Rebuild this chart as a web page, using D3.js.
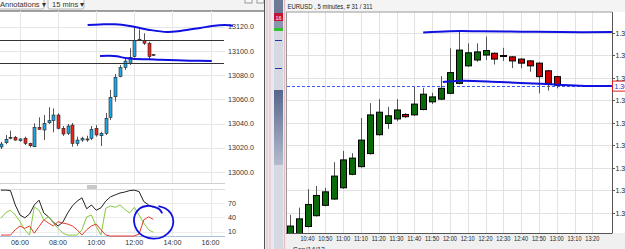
<!DOCTYPE html>
<html>
<head>
<meta charset="utf-8">
<script src="https://cdn.jsdelivr.net/npm/d3@7"></script>
<style>
  body { margin: 0; background: #fff; overflow: hidden; }
  svg { display: block; font-family: "Liberation Sans", Arial, sans-serif; }
</style>
</head>
<body>
<div id="frame_div"></div>
<script>
// Two trading screens side by side: 15 min chart (left) and EURUSD 5 min (right)

const FRAME_WIDTH = 625;
const FRAME_HEIGHT = 249;

// ---------- left chart data (15 mins) ----------
const leftTimes = ["05:00","05:15","05:30","05:45","06:00","06:15","06:30","06:45","07:00","07:15","07:30",
  "07:45","08:00","08:15","08:30","08:45","09:00","09:15","09:30","09:45","10:00","10:15","10:30","10:45",
  "11:00","11:15","11:30","11:45","12:00","12:15","12:30","12:45","13:00"];
const leftOpen  = [13020.7,13024.2,13028.7,13028.7,13025.9,13027.9,13023.7,13020.9,13036.9,13034.7,13040.7,
  13042.4,13047.1,13036.1,13032.0,13038.8,13023.7,13026.4,13027.3,13027.9,13036.1,13030.0,13032.0,13045.2,
  13062.2,13078.8,13086.5,13089.5,13095.3,13109.7,13108.5,13106.4,13097.0];
const leftHigh  = [13025.0,13030.6,13034.1,13029.8,13027.9,13029.2,13024.2,13040.2,13045.2,13047.1,13053.5,
  13052.6,13048.5,13038.0,13039.7,13040.5,13029.2,13029.2,13030.0,13038.0,13038.8,13033.3,13048.8,13067.8,
  13081.0,13088.4,13094.8,13102.2,13120.7,13117.9,13114.6,13107.7,13097.6];
const leftLow   = [13019.0,13022.9,13027.0,13025.9,13025.0,13022.3,13020.4,13020.7,13034.7,13026.4,13039.7,
  13032.8,13035.3,13029.8,13030.6,13020.9,13021.5,13025.0,13025.0,13026.4,13029.2,13021.5,13030.6,13043.0,
  13058.1,13078.3,13084.3,13088.4,13094.5,13109.0,13105.0,13093.1,13096.4];
const leftClose = [13023.1,13027.0,13028.7,13026.4,13027.3,13023.7,13021.7,13036.9,13035.3,13040.2,13042.4,
  13047.1,13036.1,13031.4,13038.0,13023.7,13026.4,13027.9,13027.3,13035.3,13030.6,13032.0,13044.4,13061.7,
  13078.3,13086.2,13091.7,13094.8,13108.5,13109.7,13106.4,13095.3,13097.0];

// oscillator pane (0-100)
const oscBlack = [97,97,96,66,45,39,47,66,76,49,41,30,22,30,49,64,74,81,58,66,55,60,74,83,87,91,93,96,97,94,73,66,61];
const oscGreen = [38,50,55,45,31,14,3,62,55,35,41,28,17,7,3,3,3,14,41,45,21,3,59,64,61,66,57,49,61,45,28,14,9];
const oscRed   = [3,3,3,14,22,17,22,7,21,35,28,22,31,28,26,22,14,3,14,22,26,14,3,1,1,1,1,1,1,5,35,41,36];

const leftPriceTicks = [13000, 13020, 13040, 13060, 13080, 13100, 13120];
const leftTimeTicks = ["06:00","08:00","10:00","12:00","14:00","16:00"];
const oscTicks = [10, 40, 70];

// annotations drawn on the left chart
const leftLevels = [13108.8, 13090.3];
const leftUpperBand = [["09:33",13121.5],["10:12",13121.9],["10:59",13122.1],["11:46",13120.7],["12:49",13117.4],
  ["13:43",13115.7],["14:24",13116.5],["15:27",13119.0],["16:05",13120.7],["16:46",13121.5],["17:11",13120.9]];
const leftLowerBand = [["10:12",13095.9],["10:43",13096.1],["11:05",13095.6],["11:31",13094.2],["12:02",13093.4],
  ["12:44",13093.2],["13:21",13092.8],["14:55",13092.0],["16:04",13091.7]];
const oscCircle = [["13:28",48.5],["13:19",56.9],["13:00",62.4],["12:39",63.8],["12:18",59.0],["12:02",45.0],
  ["11:59",31.0],["12:08",13.6],["12:28",1.0],["13:00",-4.6],["13:31",-0.4],["13:55",13.6],["14:03",31.0],
  ["13:55",48.5],["13:37",59.0],["13:16",63.8]];

// ---------- right chart data (EURUSD, 5 minutes) ----------
const rightTimes = ["10:30","10:35","10:40","10:45","10:50","10:55","11:00","11:05","11:10","11:15","11:20",
  "11:25","11:30","11:35","11:40","11:45","11:50","11:55","12:00","12:05","12:10","12:15","12:20","12:25",
  "12:30","12:35","12:40","12:45","12:50","12:55","13:00"];
const rightOpen  = [1.30652,1.30652,1.30670,1.30694,1.30717,1.30731,1.30756,1.30786,1.30803,1.30832,1.30874,
  1.30899,1.30909,1.30919,1.30918,1.30930,1.30947,1.30953,1.30966,1.30988,1.31027,1.31040,1.31051,1.31055,
  1.31050,1.31047,1.31042,1.31038,1.31033,1.31016,1.31003];
const rightHigh  = [1.30696,1.30712,1.30753,1.30760,1.30756,1.30813,1.30838,1.30833,1.30911,1.30944,1.30953,
  1.30936,1.30953,1.30922,1.30980,1.30978,1.30967,1.31004,1.31066,1.31103,1.31077,1.31077,1.31092,1.31057,
  1.31067,1.31049,1.31044,1.31040,1.31035,1.31018,1.31005];
const rightLow   = [1.30640,1.30640,1.30668,1.30692,1.30715,1.30729,1.30754,1.30784,1.30801,1.30830,1.30872,
  1.30887,1.30904,1.30911,1.30916,1.30928,1.30942,1.30951,1.30964,1.30986,1.31025,1.31036,1.31040,1.31030,
  1.31038,1.31022,1.31022,1.31014,1.30966,1.30972,1.30977];
const rightClose = [1.30671,1.30687,1.30719,1.30739,1.30747,1.30782,1.30818,1.30822,1.30862,1.30918,1.30924,
  1.30916,1.30929,1.30914,1.30942,1.30964,1.30958,1.30977,1.31012,1.31062,1.31056,1.31058,1.31061,1.31042,
  1.31050,1.31038,1.31033,1.31027,1.31003,1.30988,1.30984];

const rightPriceTicks = [1.3070, 1.3075, 1.3080, 1.3085, 1.3090, 1.3095, 1.3100, 1.3105, 1.3110];
const rightTimeTicks = ["10:40","10:50","11:00","11:10","11:20","11:30","11:40","11:50","12:00","12:10",
  "12:20","12:30","12:40","12:50","13:00","13:10","13:20"];

const rightUpperBand = [["11:45",1.31101],["12:00",1.31104],["12:17",1.31104],["12:40",1.31103],["13:02",1.31102],["13:31",1.31102]];
const rightLowerBand = [["11:56",1.30991],["12:06",1.30994],["12:28",1.30991],["12:51",1.30987],["13:13",1.30983],["13:31",1.30982]];
const rightLastPrice = 1.30982;

// ---------- setup ----------
const parseT = d3.timeParse("%H:%M");

const svg = d3.select("#frame_div")
  .append("svg")
    .attr("width", FRAME_WIDTH)
    .attr("height", FRAME_HEIGHT);

svg.append("rect").attr("width", FRAME_WIDTH).attr("height", FRAME_HEIGHT).attr("fill", "#fff");

const defs = svg.append("defs");
defs.append("clipPath").attr("id", "clipL")
  .append("rect").attr("x", 0).attr("y", 11.5).attr("width", 225).attr("height", 171);
defs.append("clipPath").attr("id", "clipR")
  .append("rect").attr("x", 286.5).attr("y", 12).attr("width", 325.5).attr("height", 221);
const grad = defs.append("linearGradient").attr("id", "stripGrad").attr("x1", 0).attr("x2", 0).attr("y1", 0).attr("y2", 1);
grad.append("stop").attr("offset", "0").attr("stop-color", "#56668c");
grad.append("stop").attr("offset", "1").attr("stop-color", "#b4bccd");

// ================= LEFT PANEL =================
const LX = d3.scaleTime().domain([parseT("06:00"), parseT("16:00")]).range([20, 210.5]);
const LY = d3.scaleLinear().domain([13000, 13120]).range([172, 26.8]);
const OY = d3.scaleLinear().domain([0, 100]).range([236.5, 188.7]);

// toolbar
svg.append("rect").attr("x", 0).attr("y", 0).attr("width", 264).attr("height", 11).attr("fill", "#f3f3f3");
const buttons = [{label: "Annotations \u25BE", x: -4, w: 48}, {label: "15 mins \u25BE", x: 48, w: 36}];
buttons.forEach(b => {
  svg.append("rect").attr("x", b.x).attr("y", -5).attr("width", b.w).attr("height", 14).attr("rx", 2)
    .attr("fill", "#fafafa").attr("stroke", "#b8b8b8");
  svg.append("text").attr("x", b.x + 4).attr("y", 6.5).attr("font-size", 7.5).attr("fill", "#333").text(b.label);
});
[245, 257].forEach(x => {
  svg.append("rect").attr("x", x).attr("y", -3).attr("width", 7).attr("height", 6)
    .attr("fill", "#f7f7f7").attr("stroke", "#999");
});
svg.append("line").attr("x1", 0).attr("x2", 264).attr("y1", 11).attr("y2", 11).attr("stroke", "#444");
svg.append("line").attr("x1", 264.5).attr("x2", 264.5).attr("y1", 0).attr("y2", FRAME_HEIGHT).attr("stroke", "#555");

// grid (price pane)
svg.selectAll(".lgridh").data(leftPriceTicks).enter().append("line")
  .attr("x1", 0).attr("x2", 225).attr("y1", d => Math.round(LY(d)) + 0.5).attr("y2", d => Math.round(LY(d)) + 0.5)
  .attr("stroke", "#e6e6e6");
svg.selectAll(".lgridv").data(leftTimeTicks).enter().append("line")
  .attr("x1", d => Math.round(LX(parseT(d))) + 0.5).attr("x2", d => Math.round(LX(parseT(d))) + 0.5)
  .attr("y1", 11).attr("y2", 183).attr("stroke", "#e6e6e6");

// separator between panes
svg.append("line").attr("x1", 0).attr("x2", 225).attr("y1", 183.5).attr("y2", 183.5).attr("stroke", "#d0d0d0");
svg.append("line").attr("x1", 0).attr("x2", 225).attr("y1", 189.5).attr("y2", 189.5).attr("stroke", "#dcdcdc");
svg.append("rect").attr("x", 87).attr("y", 185).attr("width", 10).attr("height", 4).attr("fill", "#c8c8c8");

// grid (oscillator pane)
svg.selectAll(".ogridh").data(oscTicks).enter().append("line")
  .attr("x1", 0).attr("x2", 225).attr("y1", d => Math.round(OY(d)) + 0.5).attr("y2", d => Math.round(OY(d)) + 0.5)
  .attr("stroke", "#ececec");
svg.selectAll(".ogridv").data(leftTimeTicks).enter().append("line")
  .attr("x1", d => Math.round(LX(parseT(d))) + 0.5).attr("x2", d => Math.round(LX(parseT(d))) + 0.5)
  .attr("y1", 190).attr("y2", 236).attr("stroke", "#e6e6e6");
svg.append("line").attr("x1", 0).attr("x2", 225).attr("y1", 236.5).attr("y2", 236.5).attr("stroke", "#a9c1da");

// axis labels
svg.selectAll(".lpl").data(leftPriceTicks).enter().append("text")
  .attr("x", 228).attr("y", d => LY(d) + 2.6).attr("font-size", 7.2).attr("fill", "#333")
  .text(d => d3.format(".1f")(d));
svg.selectAll(".ool").data(oscTicks).enter().append("text")
  .attr("x", 228).attr("y", d => OY(d) + 2.6).attr("font-size", 7.2).attr("fill", "#333").text(d => d);
svg.selectAll(".ltl").data(leftTimeTicks).enter().append("text")
  .attr("x", d => LX(parseT(d))).attr("y", 244.5).attr("text-anchor", "middle")
  .attr("font-size", 7.2).attr("fill", "#333").text(d => d);

// candles
const leftData = leftTimes.map((t, i) => ({t: parseT(t), o: leftOpen[i], h: leftHigh[i], l: leftLow[i], c: leftClose[i]}));
const lg = svg.append("g").attr("clip-path", "url(#clipL)");
lg.selectAll(".lw").data(leftData).enter().append("line")
  .attr("x1", d => Math.round(LX(d.t)) + 0.5).attr("x2", d => Math.round(LX(d.t)) + 0.5)
  .attr("y1", d => LY(d.h)).attr("y2", d => LY(d.l)).attr("stroke", "#555");
lg.selectAll(".lb").data(leftData).enter().append("rect")
  .attr("x", d => Math.round(LX(d.t)) - 1)
  .attr("y", d => LY(Math.max(d.o, d.c)))
  .attr("width", 3)
  .attr("height", d => Math.max(1, Math.abs(LY(d.o) - LY(d.c))))
  .attr("fill", d => d.c > d.o ? "#1ea7e4" : (d.c < d.o ? "#e2281f" : "#666"))
  .attr("stroke", "#222").attr("stroke-width", 0.6);

// horizontal annotation levels
lg.selectAll(".lvl").data(leftLevels).enter().append("line")
  .attr("x1", 0).attr("x2", 224).attr("y1", d => Math.round(LY(d)) + 0.5).attr("y2", d => Math.round(LY(d)) + 0.5)
  .attr("stroke", "#333").attr("stroke-width", 1);

// oscillator lines
const oscLine = d3.line().x((d, i) => LX(parseT(leftTimes[i]))).y(d => OY(d));
[[oscBlack, "#222"], [oscGreen, "#84c93c"], [oscRed, "#e63b2e"]].forEach(([vals, col]) => {
  svg.append("path").datum(vals).attr("d", oscLine).attr("fill", "none").attr("stroke", col).attr("stroke-width", 1);
});

// hand drawn blue marks
const bandLine = d3.line().curve(d3.curveCatmullRom).x(d => LX(parseT(d[0]))).y(d => LY(d[1]));
[leftUpperBand, leftLowerBand].forEach(b => {
  svg.append("path").datum(b).attr("d", bandLine).attr("fill", "none").attr("stroke", "#1010e0").attr("stroke-width", 2);
});
const circleLine = d3.line().curve(d3.curveCatmullRom).x(d => LX(parseT(d[0]))).y(d => OY(d[1]));
svg.append("path").datum(oscCircle).attr("d", circleLine).attr("fill", "none")
  .attr("stroke", "#1010e0").attr("stroke-width", 1.8);

// ================= DIVIDER =================
svg.append("rect").attr("x", 265).attr("y", 0).attr("width", 21).attr("height", FRAME_HEIGHT).attr("fill", "#ebe9ef");
[267, 270, 284.5].forEach(x => {
  svg.append("line").attr("x1", x).attr("x2", x).attr("y1", 0).attr("y2", FRAME_HEIGHT).attr("stroke", "#e4bcc4");
});
svg.append("rect").attr("x", 274).attr("y", 0).attr("width", 9).attr("height", FRAME_HEIGHT).attr("fill", "#d6d9e2");
svg.append("rect").attr("x", 274).attr("y", 0).attr("width", 9).attr("height", 13).attr("fill", "#6c7a98");
svg.append("rect").attr("x", 274).attr("y", 13).attr("width", 9).attr("height", 8).attr("fill", "#c41230");
svg.append("text").attr("x", 278.5).attr("y", 19.5).attr("text-anchor", "middle").attr("font-size", 5.5)
  .attr("fill", "#fff").text("16");
svg.append("rect").attr("x", 274).attr("y", 21).attr("width", 9).attr("height", 7).attr("fill", "#8a95ad");
svg.append("rect").attr("x", 274).attr("y", 28).attr("width", 9).attr("height", 3).attr("fill", "#30c030");
[40, 68].forEach(y => {
  svg.append("rect").attr("x", 275).attr("y", y).attr("width", 7).attr("height", 1).attr("fill", "#2233aa");
});
svg.append("rect").attr("x", 274).attr("y", 90).attr("width", 9).attr("height", 75).attr("fill", "url(#stripGrad)");

// ================= RIGHT PANEL =================
const RX = d3.scaleTime().domain([parseT("10:40"), parseT("13:20")]).range([307.5, 592.3]);
const RY = d3.scaleLinear().domain([1.3070, 1.3110]).range([213, 33]);

svg.append("rect").attr("x", 286).attr("y", 0).attr("width", 339).attr("height", 12).attr("fill", "#f4f4f4");
svg.append("rect").attr("x", 286).attr("y", 233).attr("width", 339).attr("height", 16).attr("fill", "#f0f0f0");
svg.append("text").attr("x", 287.5).attr("y", 8.5).attr("font-size", 6.4).attr("fill", "#222")
  .attr("textLength", 85).attr("lengthAdjust", "spacingAndGlyphs")
  .text("EURUSD , 5 minutes, # 31 / 311");

// grid
svg.selectAll(".rgridh").data(rightPriceTicks).enter().append("line")
  .attr("x1", 287).attr("x2", 612).attr("y1", d => Math.round(RY(d)) + 0.5).attr("y2", d => Math.round(RY(d)) + 0.5)
  .attr("stroke", "#e2e2e2");
svg.selectAll(".rgridv").data(rightTimeTicks).enter().append("line")
  .attr("x1", d => Math.round(RX(parseT(d))) + 0.5).attr("x2", d => Math.round(RX(parseT(d))) + 0.5)
  .attr("y1", 12).attr("y2", 233).attr("stroke", "#e2e2e2");

// frame
svg.append("line").attr("x1", 286.5).attr("x2", 286.5).attr("y1", 12).attr("y2", 233).attr("stroke", "#9a9a9a");
svg.append("line").attr("x1", 286).attr("x2", 612).attr("y1", 12).attr("y2", 12).attr("stroke", "#9a9a9a");
svg.append("line").attr("x1", 612.5).attr("x2", 612.5).attr("y1", 12).attr("y2", 233).attr("stroke", "#555");
svg.append("line").attr("x1", 286).attr("x2", 612.5).attr("y1", 233.5).attr("y2", 233.5).attr("stroke", "#555");

// axes labels
svg.selectAll(".rtick").data(rightPriceTicks).enter().append("line")
  .attr("x1", 612).attr("x2", 615).attr("y1", d => Math.round(RY(d)) + 0.5).attr("y2", d => Math.round(RY(d)) + 0.5)
  .attr("stroke", "#555");
svg.selectAll(".rpl").data(rightPriceTicks).enter().append("text")
  .attr("x", 615.5).attr("y", d => RY(d) + 2.5).attr("font-size", 7).attr("fill", "#222")
  .text(d => d3.format(".4f")(d));
svg.selectAll(".rtl").data(rightTimeTicks).enter().append("text")
  .attr("x", d => RX(parseT(d)) - 7).attr("y", 241).attr("font-size", 6.5).attr("fill", "#222")
  .attr("textLength", 14).attr("lengthAdjust", "spacingAndGlyphs")
  .text(d => d);
svg.append("text").attr("x", 293).attr("y", 252).attr("font-size", 7).attr("fill", "#222").text("Sep/14/12");

// last price dashed line
const rg = svg.append("g").attr("clip-path", "url(#clipR)");
rg.append("line").attr("x1", 287).attr("x2", 612).attr("y1", Math.round(RY(rightLastPrice)) + 0.5)
  .attr("y2", Math.round(RY(rightLastPrice)) + 0.5)
  .attr("stroke", "#3a5cff").attr("stroke-dasharray", "3,2");

// candles
const rightData = rightTimes.map((t, i) => ({t: parseT(t), o: rightOpen[i], h: rightHigh[i], l: rightLow[i], c: rightClose[i]}));
rg.selectAll(".rw").data(rightData).enter().append("line")
  .attr("x1", d => Math.round(RX(d.t)) + 0.5).attr("x2", d => Math.round(RX(d.t)) + 0.5)
  .attr("y1", d => RY(d.h)).attr("y2", d => RY(d.l)).attr("stroke", "#555");
rg.selectAll(".rb").data(rightData).enter().append("rect")
  .attr("x", d => Math.round(RX(d.t)) - 2.5)
  .attr("y", d => RY(Math.max(d.o, d.c)))
  .attr("width", 6)
  .attr("height", d => Math.max(1, Math.abs(RY(d.o) - RY(d.c))))
  .attr("fill", d => d.c > d.o ? "#0a6a0a" : (d.c < d.o ? "#cc0000" : "#333"))
  .attr("stroke", "#000").attr("stroke-width", 1);

// hand drawn bands
const rBand = d3.line().curve(d3.curveCatmullRom).x(d => RX(parseT(d[0]))).y(d => RY(d[1]));
[rightUpperBand, rightLowerBand].forEach(b => {
  svg.append("path").datum(b).attr("d", rBand).attr("fill", "none").attr("stroke", "#1010e0").attr("stroke-width", 2);
});

// last price box
svg.append("rect").attr("x", 612.5).attr("y", RY(rightLastPrice) - 5).attr("width", 16).attr("height", 10)
  .attr("fill", "#fff").attr("stroke", "#e02020");
svg.append("text").attr("x", 614.5).attr("y", RY(rightLastPrice) + 2.5).attr("font-size", 7).attr("fill", "#1a33cc")
  .text(d3.format(".4f")(rightLastPrice));
</script>
</body>
</html>
